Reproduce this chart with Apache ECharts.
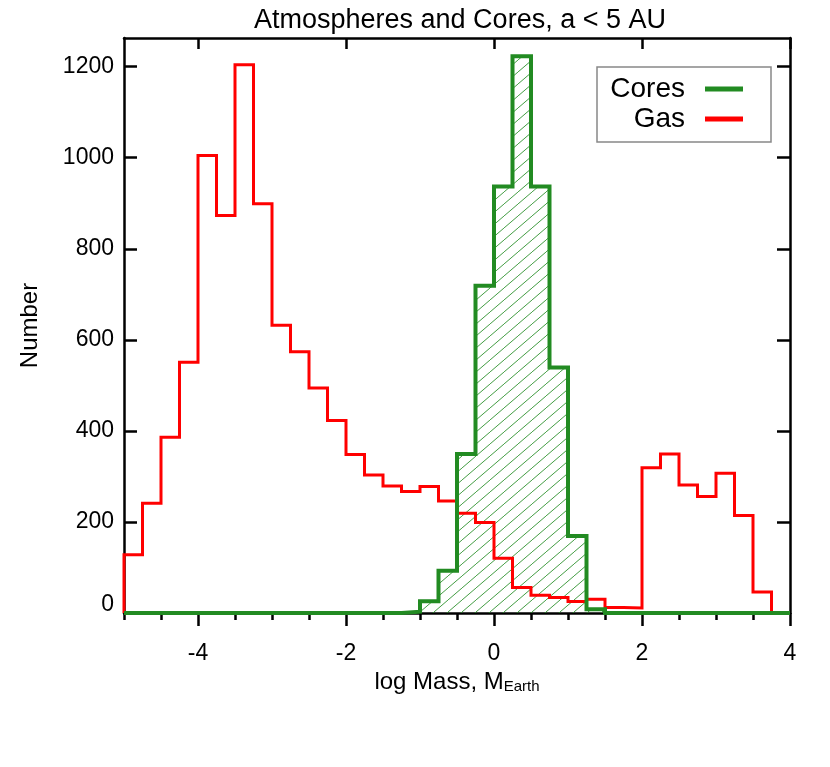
<!DOCTYPE html>
<html>
<head>
<meta charset="utf-8">
<script src="https://cdn.jsdelivr.net/npm/echarts@6/dist/echarts.min.js"></script>
<style>
  html, body { margin: 0; padding: 0; background: #fff; }
  #main { width: 830px; height: 767px; }
</style>
</head>
<body>
<div id="main"></div>
<script>
// histogram bin edges (log mass), 0.25 wide
var binEdges = [-5, -4.75, -4.5, -4.25, -4, -3.75, -3.5, -3.25, -3, -2.75, -2.5, -2.25,
                -2, -1.75, -1.5, -1.25, -1, -0.75, -0.5, -0.25, 0, 0.25, 0.5, 0.75,
                1, 1.25, 1.5, 1.75, 2, 2.25, 2.5, 2.75, 3, 3.25, 3.5, 3.75, 4];
var gasCounts = [128, 241, 386, 551, 1005, 873, 1204, 899, 632, 574, 494, 423,
                 348, 303, 279, 267, 278, 246, 219, 199, 120, 56, 39, 34,
                 25, 30, 12, 11, 319, 349, 281, 256, 307, 214, 46, 0];
var coreCounts = [0, 0, 0, 0, 0, 0, 0, 0, 0, 0, 0, 0,
                  0, 0, 0, 3, 26, 93, 349, 719, 937, 1223, 937, 539,
                  169, 8, 0, 0, 0, 0, 0, 0, 0, 0, 0, 0];
var yTicks = [0, 200, 400, 600, 800, 1000, 1200];
var xTicks = [-4, -2, 0, 2, 4];

// outline points of a histogram, both corners of every bin
function histPoints(counts) {
    var pts = [[binEdges[0], 0]];
    for (var i = 0; i < counts.length; i++) {
        pts.push([binEdges[i], counts[i]]);
        pts.push([binEdges[i + 1], counts[i]]);
    }
    pts.push([binEdges[binEdges.length - 1], 0]);
    return pts;
}

// diagonal hatch for the cores
var hatch = document.createElement('canvas');
hatch.width = 14;
hatch.height = 12;
var hc = hatch.getContext('2d');
hc.strokeStyle = 'rgba(34,139,34,0.85)';
hc.lineWidth = 1;
hc.beginPath();
hc.moveTo(0, 12); hc.lineTo(14, 0);
hc.moveTo(-14, 12); hc.lineTo(0, 0);
hc.moveTo(14, 12); hc.lineTo(28, 0);
hc.stroke();

var green = '#228B22';
var red = '#FF0000';
var font = 'Liberation Sans';
var axisW = 2.5;

var option = {
    animation: false,
    backgroundColor: '#fff',
    textStyle: { fontFamily: font, color: '#000' },
    title: {
        text: 'Atmospheres and Cores, a < 5 AU',
        left: 249,
        top: 2,
        textStyle: { fontFamily: font, fontSize: 27, fontWeight: 'normal', color: '#000' }
    },
    legend: {
        data: ['Cores', 'Gas'],
        orient: 'vertical',
        left: 597,
        top: 67,
        align: 'right',
        selectedMode: false,
        icon: 'rect',
        itemWidth: 38,
        itemHeight: 5,
        itemGap: 2,
        padding: [8, 28, 9, 11],
        borderColor: '#888',
        borderWidth: 1.5,
        textStyle: {
            fontFamily: font, fontSize: 28, color: '#000',
            width: 77, align: 'right', lineHeight: 27, padding: [0, 15, 0, 0]
        }
    },
    grid: [
        { left: 124, right: 40, top: 38, bottom: 154 },
        { left: 124, right: 40, top: 38, bottom: 154 }
    ],
    xAxis: [
        {
            type: 'value', gridIndex: 0, position: 'bottom',
            min: -5, max: 4,
            name: 'log Mass, M{sub|Earth}',
            nameLocation: 'middle',
            nameGap: 52,
            nameTextStyle: {
                fontFamily: font, fontSize: 24, color: '#000',
                rich: { sub: { fontFamily: font, fontSize: 15, padding: [10, 0, 0, 0], color: '#000' } }
            },
            axisLine: { show: true, onZero: false, lineStyle: { color: '#000', width: axisW } },
            axisTick: { show: true, inside: false, length: 13, customValues: xTicks, lineStyle: { color: '#000', width: axisW } },
            axisLabel: { customValues: xTicks, margin: 29, fontFamily: font, fontSize: 23, color: '#000' },
            splitLine: { show: false }
        },
        {
            type: 'value', gridIndex: 0, position: 'top',
            min: -5, max: 4,
            axisLine: { show: true, onZero: false, lineStyle: { color: '#000', width: axisW } },
            axisTick: { show: true, inside: true, length: 11, customValues: xTicks, lineStyle: { color: '#000', width: axisW } },
            axisLabel: { show: false },
            splitLine: { show: false }
        },
        {
            // minor ticks every 0.5 along the bottom
            type: 'value', gridIndex: 1, position: 'bottom',
            min: -5, max: 4, interval: 0.5,
            axisLine: { show: false },
            axisTick: { show: true, inside: false, length: 7, lineStyle: { color: '#000', width: axisW } },
            axisLabel: { show: false },
            splitLine: { show: false }
        }
    ],
    yAxis: [
        {
            type: 'value', gridIndex: 0, position: 'left',
            min: 0, max: 1263,
            name: 'Number',
            nameLocation: 'middle',
            nameGap: 82,
            nameTextStyle: { fontFamily: font, fontSize: 24, color: '#000' },
            axisLine: { show: true, onZero: false, lineStyle: { color: '#000', width: axisW } },
            axisTick: { show: true, inside: true, length: 13, customValues: yTicks, lineStyle: { color: '#000', width: axisW } },
            axisLabel: {
                customValues: yTicks, margin: 10, fontFamily: font, fontSize: 23, color: '#000',
                formatter: function (v) { return v === 0 ? '{lift|0}' : String(v); },
                rich: { lift: { fontFamily: font, fontSize: 23, color: '#000', padding: [0, 0, 16, 0] } }
            },
            splitLine: { show: false }
        },
        {
            type: 'value', gridIndex: 0, position: 'right',
            min: 0, max: 1263,
            axisLine: { show: true, onZero: false, lineStyle: { color: '#000', width: axisW } },
            axisTick: { show: true, inside: true, length: 13, customValues: yTicks, lineStyle: { color: '#000', width: axisW } },
            axisLabel: { show: false },
            splitLine: { show: false }
        },
        {
            type: 'value', gridIndex: 1, min: 0, max: 1263, show: false
        }
    ],
    series: [
        {
            name: 'Cores fill',
            type: 'line',
            xAxisIndex: 0, yAxisIndex: 0,
            data: histPoints(coreCounts),
            symbol: 'none',
            silent: true,
            lineStyle: { width: 0, opacity: 0 },
            areaStyle: { color: { image: hatch, repeat: 'repeat' }, opacity: 1 }
        },
        {
            name: 'Gas',
            type: 'line',
            xAxisIndex: 0, yAxisIndex: 0,
            data: histPoints(gasCounts),
            symbol: 'none',
            color: red,
            lineStyle: { color: red, width: 3, join: 'miter' }
        },
        {
            name: 'Cores',
            type: 'line',
            xAxisIndex: 0, yAxisIndex: 0,
            data: histPoints(coreCounts),
            symbol: 'none',
            color: green,
            lineStyle: { color: green, width: 4, join: 'miter' }
        }
    ]
};

var chart = echarts.init(document.getElementById('main'));
chart.setOption(option);
</script>
</body>
</html>
